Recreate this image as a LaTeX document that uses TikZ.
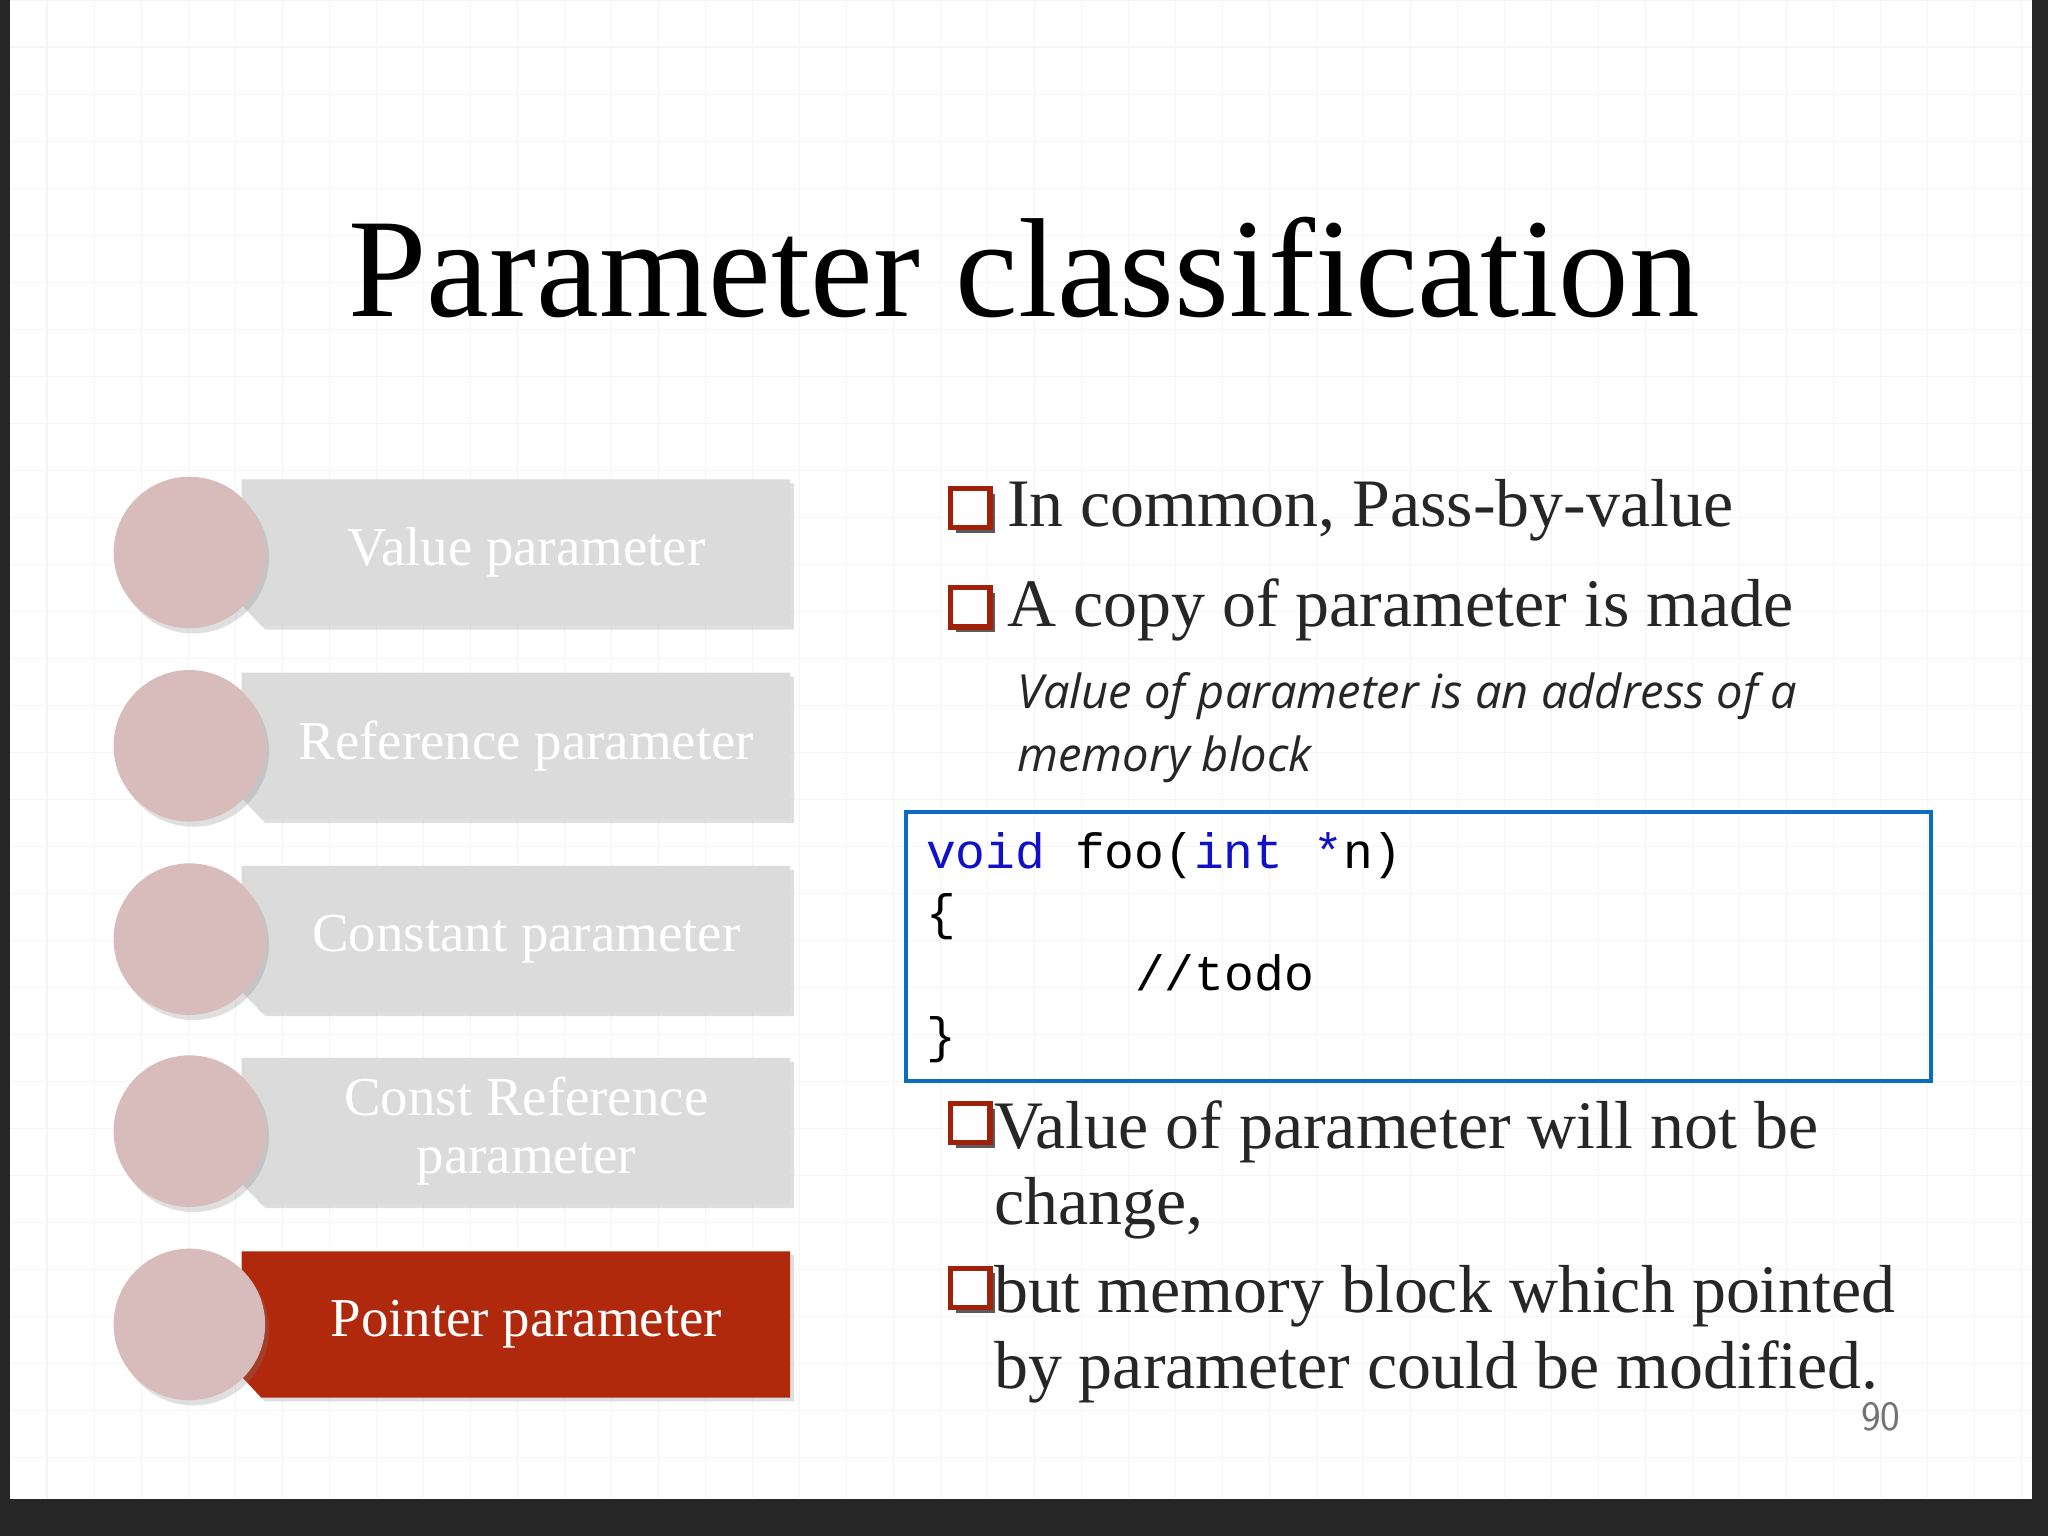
\documentclass[tikz,border=0pt]{standalone}
\usepackage{fontspec}
\setmainfont{Liberation Serif}
\newfontfamily\codefont{Liberation Mono}
\newfontfamily\itfont{Open Sans}
\usetikzlibrary{shadows}
\definecolor{circ}{HTML}{D8BCBC}
\definecolor{boxg}{HTML}{DBDBDB}
\definecolor{boxr}{HTML}{B0290D}
\definecolor{bul}{HTML}{A0200A}
\definecolor{kw}{HTML}{1010C8}
\definecolor{frameb}{HTML}{0B6DC0}
\tikzset{
  x=0.5pt,y=-0.5pt,
  item/.style={fill=#1, drop shadow={opacity=0.25,shadow xshift=1.5pt,shadow yshift=-1.5pt}},
  circlenode/.style={circle,minimum size=58pt,inner sep=0,fill=circ, drop shadow={opacity=0.25,shadow xshift=1.5pt,shadow yshift=-2pt}},
  lbl/.style={text=white,font=\fontsize{21}{21}\selectfont,align=center},
  btxt/.style={anchor=west,font=\fontsize{26}{29}\selectfont,text=black!85,align=left},
  bsq/.style={draw=bul,line width=2pt,minimum size=15pt,inner sep=0,fill=white,drop shadow={opacity=0.8,shadow xshift=2pt,shadow yshift=-2pt,fill=black!80}}
}
\begin{document}
\begin{tikzpicture}
\useasboundingbox (0,0) rectangle (1568,1176);
\fill[black!85] (0,0) rectangle (1568,1176);
\fill[white] (8,0) rectangle (1556,1148);
\draw[black!4,step=18pt] (8,0) grid (1556,1148);
\node (title) at (784,205) {\fontsize{54}{56}\selectfont Parameter classification};
% items
\foreach \y/\c/\t [count=\i] in {423/boxg/Value parameter,571/boxg/Reference parameter,719/boxg/Constant parameter,866/boxg/{Const Reference\\[1pt]parameter},1014/boxr/Pointer parameter}{
  \fill[item=\c] (185,\y-56) -- (605,\y-56) -- (605,\y+56) -- (200,\y+56) -- (185,\y+40) -- cycle;
  \node[circlenode] (c\i) at (145,\y) {};
  \node[lbl] (t\i) at (403,\y) {\t};
}
% bullets
\node[bsq] (b1) at (743,389) {};
\node[btxt] (l1) at (764,391) {In common, Pass-by-value};
\node[bsq] (b2) at (743,465) {};
\node[btxt] (l2) at (764,467) {A copy of parameter is made};
\node[anchor=north west,font=\itfont\itshape\fontsize{18}{24}\selectfont,text=black!85,align=left] (it) at (772,508) {Value of parameter is an address of a\\memory block};
\node[draw=frameb,line width=1.5pt,minimum width=392.5pt,minimum height=103pt,anchor=north west] (code) at (692,620) {};
\node[anchor=north west,font=\codefont\fontsize{19}{23.5}\selectfont,align=left] (ct) at (702,630) {\textcolor{kw}{void} foo(\textcolor{kw}{int} \textcolor{kw}{*}n)\\\{\\\hspace*{80pt}//todo\\\}};
\node[bsq] (b3) at (743,860) {};
\node[btxt,anchor=north west] (l3) at (754,836) {Value of parameter will not be\\change,};
\node[bsq] (b4) at (743,986) {};
\node[btxt,anchor=north west] (l4) at (754,962) {but memory block which pointed\\by parameter could be modified.};
\node[text=black!55,font=\sffamily\fontsize{16}{18}\selectfont] (pg) at (1440,1085) {90};
\end{tikzpicture}
\end{document}
